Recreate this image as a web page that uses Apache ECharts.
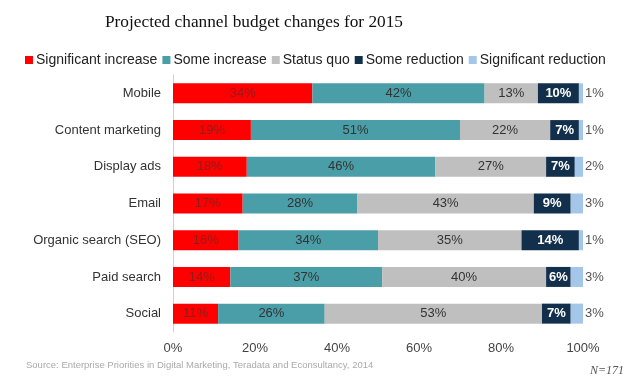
<!DOCTYPE html>
<html><head><meta charset="utf-8">
<script src="https://cdn.jsdelivr.net/npm/echarts@6/dist/echarts.min.js"></script>
<style>html,body{margin:0;padding:0;background:#fff}#c{width:630px;height:381px}</style>
</head><body><div id="c"></div>
<script>
const categories = ["Mobile","Content marketing","Display ads","Email","Organic search (SEO)","Paid search","Social"];
const seriesNames = ["Significant increase","Some increase","Status quo","Some reduction","Significant reduction"];
const sigIncrease = [34,19,18,17,16,14,11];
const someIncrease = [42,51,46,28,34,37,26];
const statusQuo = [13,22,27,43,35,40,53];
const someReduction = [10,7,7,9,14,6,7];
const sigReduction = [1,1,2,3,1,3,3];
const xTicks = [0,20,40,60,80,100];

const colors = ["#ff0000","#4a9ea7","#bfbfbf","#12304b","#a4c6e9"];
const labelStyles = [
  {color:"#8e1c1c", fontSize:13, position:"inside"},
  {color:"#333333", fontSize:13, position:"inside"},
  {color:"#333333", fontSize:13, position:"inside"},
  {color:"#ffffff", fontSize:13, fontWeight:"bold", position:"inside"},
  {color:"#555555", fontSize:13, position:"right", distance:2}
];
const values = [sigIncrease, someIncrease, statusQuo, someReduction, sigReduction];

const chart = echarts.init(document.getElementById('c'));
chart.setOption({
  animation:false,
  textStyle:{fontFamily:"Liberation Sans, Arial, sans-serif"},
  title:{text:"Projected channel budget changes for 2015", left:100, top:9,
    textStyle:{fontFamily:"Liberation Serif, serif", fontSize:17.3, fontWeight:"normal", color:"#111"}},
  legend:{data:seriesNames, top:48, left:20, itemWidth:8, itemHeight:8, itemGap:5,
    icon:"rect", textStyle:{fontSize:14, color:"#222", padding:[0,0,0,-2]}},
  graphic:[
    {type:"text", left:26, top:360, style:{text:"Source: Enterprise Priorities in Digital Marketing, Teradata and Econsultancy, 2014", fill:"#aaaaaa", fontSize:9.5, fontFamily:"Liberation Sans, Arial, sans-serif"}},
    {type:"text", left:590, top:365, style:{text:"N=171", fill:"#555", fontSize:12, fontStyle:"italic", fontFamily:"Liberation Serif, serif"}}
  ],
  grid:{left:173, right:47, top:75, height:257, containLabel:false},
  xAxis:{type:"value", min:0, max:100, interval:20,
    axisLine:{show:false}, axisTick:{show:false}, splitLine:{show:false},
    axisLabel:{formatter:v=>v+"%", fontSize:13, color:"#444", margin:10}},
  yAxis:{type:"category", data:categories, inverse:true,
    axisLine:{show:true, lineStyle:{color:"#d0d0d0"}}, axisTick:{show:false},
    axisLabel:{fontSize:13, color:"#333", margin:12}},
  series: seriesNames.map((n,i)=>({
    name:n, type:"bar", stack:"total", barWidth:20,
    itemStyle:{color:colors[i]},
    label:Object.assign({show:true, formatter:p=>p.value+"%"}, labelStyles[i]),
    data:values[i]
  }))
});
</script></body></html>
